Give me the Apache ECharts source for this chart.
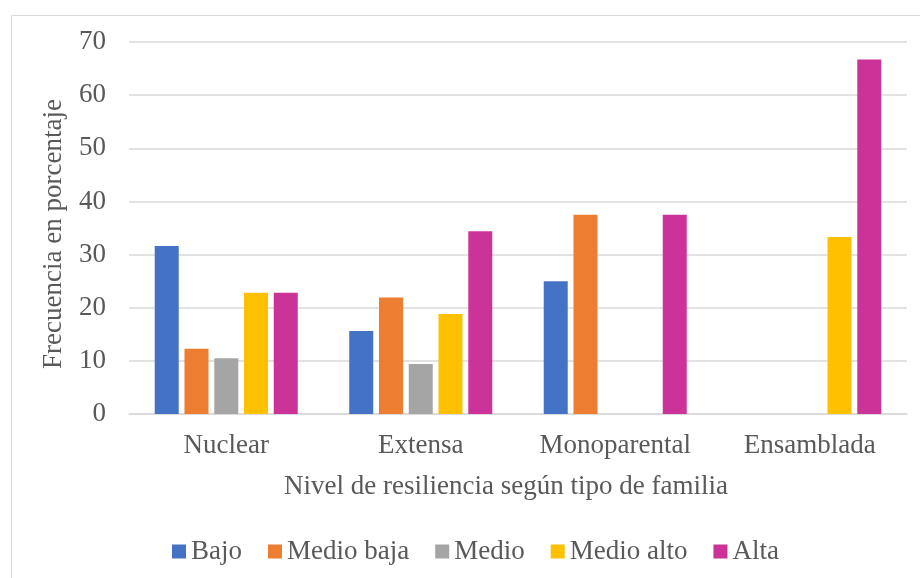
<!DOCTYPE html>
<html>
<head>
<meta charset="utf-8">
<script src="https://cdn.jsdelivr.net/npm/echarts@6/dist/echarts.min.js"></script>
<style>
  html, body { margin: 0; padding: 0; background: #fff; }
  #chart { width: 920px; height: 578px; }
</style>
</head>
<body>
<div id="chart"></div>
<script>
// tipos de familia
const categorias = ['Nuclear', 'Extensa', 'Monoparental', 'Ensamblada']
const niveles = ['Bajo', 'Medio baja', 'Medio', 'Medio alto', 'Alta']
const colores = ['#4472C4', '#ED7D31', '#A5A5A5', '#FFC000', '#CC3399']

const bajo = [31.6, 15.6, 25.0, 0]
const medioBaja = [12.3, 21.9, 37.5, 0]
const medio = [10.5, 9.4, 0, 0]
const medioAlto = [22.8, 18.8, 0, 33.3]
const alta = [22.8, 34.4, 37.5, 66.7]

const valores = [bajo, medioBaja, medio, medioAlto, alta]

const fuente = 'Liberation Serif'
const gris = '#595959'
const texto = { fontFamily: fuente, fontSize: 27, color: gris }

const chart = echarts.init(document.getElementById('chart'))
chart.setOption({
    animation: false,
    textStyle: { fontFamily: fuente },
    graphic: [
        {
            type: 'rect',
            shape: { x: 11.5, y: 15.5, width: 1000, height: 1000 },
            style: { fill: 'none', stroke: '#D9D9D9', lineWidth: 1 },
            silent: true
        }
    ],
    grid: {
        left: 129,
        right: 13,
        top: 42,
        bottom: 164
    },
    legend: {
        data: niveles,
        bottom: 8,
        left: 167,
        itemWidth: 14,
        itemHeight: 14,
        itemGap: 26,
        icon: 'rect',
        textStyle: texto
    },
    xAxis: {
        type: 'category',
        data: categorias,
        name: 'Nivel de resiliencia según tipo de familia',
        nameLocation: 'middle',
        nameGap: 59,
        nameTextStyle: { ...texto, padding: [0, 24, 0, 0] },
        axisLine: { lineStyle: { color: '#D9D9D9', width: 1.5 } },
        axisTick: { show: false },
        axisLabel: { ...texto, margin: 18, interval: 0 }
    },
    yAxis: {
        type: 'value',
        min: 0,
        max: 70,
        interval: 10,
        name: 'Frecuencia en porcentaje',
        nameLocation: 'middle',
        nameGap: 62,
        nameTextStyle: { ...texto, padding: [0, 12, 0, 0] },
        axisLine: { show: false },
        axisTick: { show: false },
        axisLabel: { ...texto, margin: 23 },
        splitLine: { lineStyle: { color: '#D9D9D9', width: 1.5 } }
    },
    series: niveles.map((nombre, i) => ({
        name: nombre,
        type: 'bar',
        data: valores[i],
        barWidth: 24,
        barGap: '24%',
        itemStyle: { color: colores[i] }
    }))
})
</script>
</body>
</html>
